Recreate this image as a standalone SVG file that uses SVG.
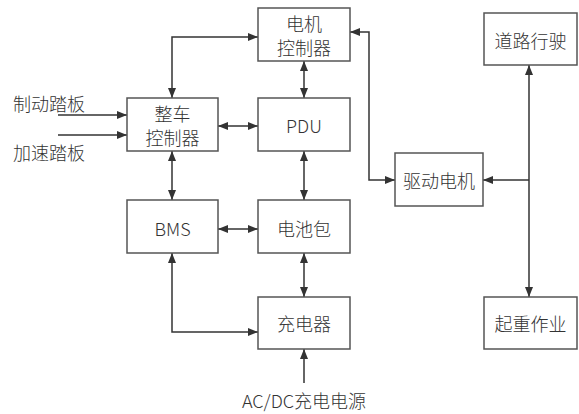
<svg xmlns="http://www.w3.org/2000/svg" width="579" height="414" viewBox="0 0 579 414">
<defs>
<marker id="ah" viewBox="0 0 10 8" refX="10" refY="4" markerWidth="10" markerHeight="8" markerUnits="userSpaceOnUse" orient="auto-start-reverse">
<path d="M0,0 L10,4 L0,8 z" fill="#333"/>
</marker>
<style>
.box{fill:#fff;stroke:#555;stroke-width:1.5}
.t{font-family:"Noto Sans CJK SC","Noto Sans",sans-serif;font-size:18px;font-weight:300;fill:#333;text-anchor:middle;dominant-baseline:central}
.l{font-family:"Noto Sans CJK SC","Noto Sans",sans-serif;font-size:18px;font-weight:300;fill:#333;dominant-baseline:central}
.c{fill:none;stroke:#333;stroke-width:1.5}
.s{marker-end:url(#ah)}
.d{marker-start:url(#ah);marker-end:url(#ah)}
</style>
</defs>
<rect width="579" height="414" fill="#fff"/>
<g id="connectors">
<polyline class="c d" points="172,98 172,37 258,37"/>
<line class="c s" x1="58" y1="115" x2="127" y2="115"/>
<line class="c s" x1="58" y1="135" x2="127" y2="135"/>
<line class="c d" x1="218" y1="126" x2="258" y2="126"/>
<line class="c d" x1="172" y1="151" x2="172" y2="200"/>
<line class="c d" x1="304" y1="61" x2="304" y2="98"/>
<line class="c d" x1="304" y1="151" x2="304" y2="200"/>
<line class="c d" x1="218" y1="229" x2="258" y2="229"/>
<line class="c d" x1="304" y1="253" x2="304" y2="297"/>
<polyline class="c d" points="172,253 172,332 258,332"/>
<line class="c s" x1="304" y1="383" x2="304" y2="349"/>
<polyline class="c d" points="350,32 369,32 369,180 395,180"/>
<line class="c d" x1="529" y1="65" x2="529" y2="297"/>
<line class="c s" x1="529" y1="180" x2="483" y2="180"/>
</g>
<g id="vcu"><rect class="box" x="127" y="98" width="91" height="53"/><text class="t" x="172.5" y="113">整车</text><text class="t" x="172.5" y="137">控制器</text></g>
<g id="mcu"><rect class="box" x="258" y="8" width="92" height="53"/><text class="t" x="304" y="23">电机</text><text class="t" x="304" y="47">控制器</text></g>
<g id="pdu"><rect class="box" x="258" y="98" width="92" height="53"/><text class="t" x="304" y="125">PDU</text></g>
<g id="bms"><rect class="box" x="127" y="200" width="91" height="53"/><text class="t" x="172.5" y="228">BMS</text></g>
<g id="battery"><rect class="box" x="258" y="200" width="92" height="53"/><text class="t" x="304" y="228">电池包</text></g>
<g id="charger"><rect class="box" x="258" y="297" width="92" height="52"/><text class="t" x="304" y="323">充电器</text></g>
<g id="motor"><rect class="box" x="395" y="153" width="88" height="53"/><text class="t" x="439" y="180">驱动电机</text></g>
<g id="road"><rect class="box" x="484" y="13" width="93" height="52"/><text class="t" x="530.5" y="40">道路行驶</text></g>
<g id="lift"><rect class="box" x="484" y="297" width="93" height="52"/><text class="t" x="530.5" y="323">起重作业</text></g>
<g id="brake"><text class="l" x="13" y="103">制动踏板</text></g>
<g id="accel"><text class="l" x="13" y="152">加速踏板</text></g>
<g id="acdc"><text class="t" x="304" y="400">AC/DC充电电源</text></g>
</svg>
